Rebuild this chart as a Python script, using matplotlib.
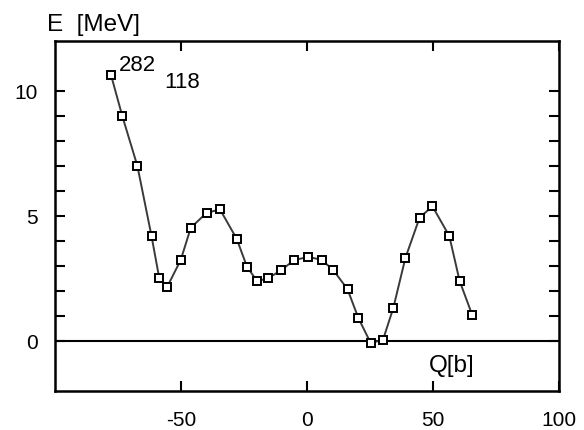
import numpy as np
import matplotlib.pyplot as plt

plt.rcParams['font.family'] = ['Liberation Sans', 'DejaVu Sans']
plt.rcParams['axes.unicode_minus'] = False

# deformation energy curve
q = [-77.8, -73.3, -67.3, -61.7, -58.6, -55.5, -50.1, -46.1, -39.8, -34.5,
     -27.9, -23.8, -19.8, -15.5, -10.3, -5.0, 0.5, 5.8, 10.5, 16.1,
     20.4, 25.3, 30.2, 34.3, 39.1, 44.7, 49.8, 56.5, 60.6, 65.6]
e = [10.65, 9.0, 7.0, 4.2, 2.5, 2.16, 3.24, 4.53, 5.13, 5.26,
     4.09, 2.97, 2.40, 2.5, 2.83, 3.24, 3.36, 3.25, 2.83, 2.07,
     0.92, -0.08, 0.05, 1.33, 3.33, 4.93, 5.39, 4.2, 2.4, 1.04]

xticks = [-50, 0, 50, 100]
yticks = [0, 5, 10]

fig = plt.figure(figsize=(5.84, 4.31), dpi=100)
ax = fig.add_axes([0.0942, 0.0905, 0.8628, 0.8121])

ax.axhline(0, color='black', lw=1.5, zorder=1)
ax.plot(q, e, color='#3a3a3a', lw=1.4, marker='s', ms=5.5, mfc='white',
        mec='black', mew=1.4, zorder=3)

ax.set_xlim(-100, 100)
ax.set_ylim(-2, 12)
ax.set_xticks(xticks)
ax.set_yticks(yticks)
ax.set_yticks(np.arange(0, 11, 1), minor=True)
ax.tick_params(which='both', direction='in', top=True, right=True,
               length=7, width=1.5, labelsize=15)
ax.tick_params(axis='y', pad=12.5)
ax.tick_params(axis='x', pad=14)
for s in ax.spines.values():
    s.set_linewidth(1.8)

ax.text(-74.7, 10.84, '282', fontsize=16)
ax.text(-56.5, 10.16, '118', fontsize=16)
ax.text(57.5, -1.2, 'Q[b]', fontsize=17.5, ha='center')
fig.text(0.080, 0.928, 'E  [MeV]', fontsize=17.5)

fig.savefig('out.png', dpi=100)
